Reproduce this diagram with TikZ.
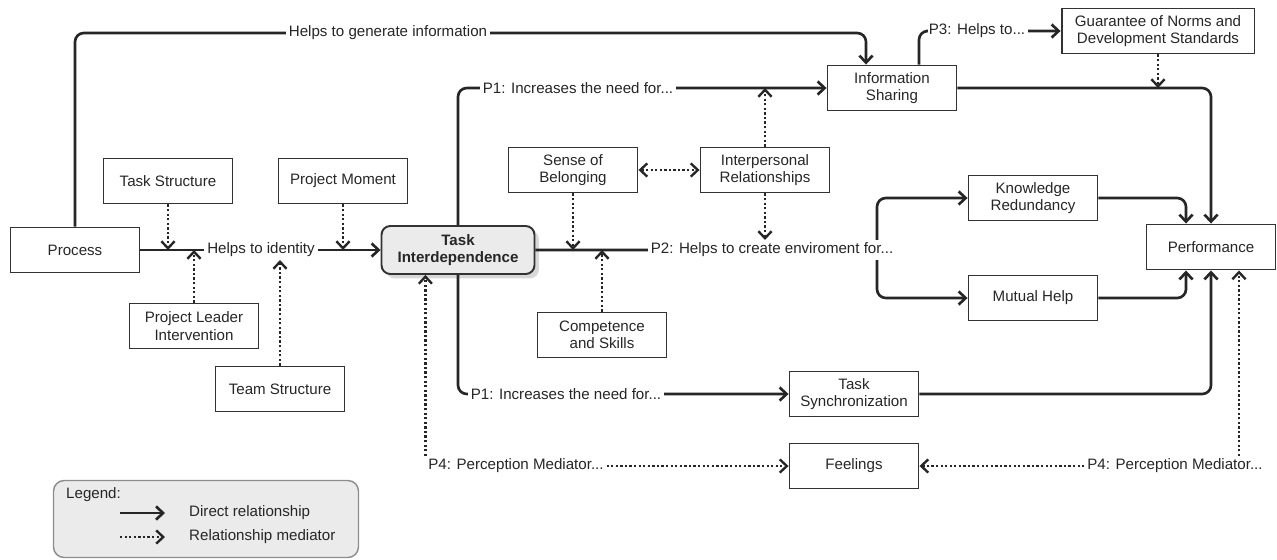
\documentclass[tikz,border=0pt]{standalone}
\usepackage{fontspec}
\setmainfont{Liberation Sans}
\usetikzlibrary{arrows.meta,calc,shadows}

\begin{document}
\begin{tikzpicture}[x=0.02cm,y=-0.02cm,>={Straight Barb[length=4pt,width=7.5pt]},
  font=\fontsize{8.6}{9.8}\selectfont,text=black!85,
  box/.style={draw=black!80,line width=1.1pt,minimum width=2.58cm,minimum height=0.9cm,align=center,inner sep=1pt},
  mainbox/.style={box,rounded corners=5pt,minimum width=3.06cm,minimum height=0.96cm,fill=black!8,drop shadow={shadow xshift=2.5pt,shadow yshift=-2.5pt,fill=black!30},font=\fontsize{8.6}{9.8}\selectfont\bfseries},
  lbl/.style={fill=white,inner sep=1.5pt},
  direct/.style={->,draw=black!85,line width=1.5pt,rounded corners=5pt},
  mediator/.style={->,draw=black!85,line width=1.35pt,dash pattern=on 1.3pt off 1.3pt}]
  \useasboundingbox (0,0) rectangle (1277,559);

  \node[box] (proc) at (75,250) {Process};
  \node[box] (tstruct) at (168,181) {Task Structure};
  \node[box] (pmom) at (343,181) {Project Moment};
  \node[box] (pli) at (194,326) {Project Leader\\Intervention};
  \node[box] (team) at (280,389) {Team Structure};
  \node[mainbox] (ti) at (458,250) {Task\\Interdependence};
  \node[box] (sob) at (573,170) {Sense of\\Belonging};
  \node[box] (ir) at (765,170) {Interpersonal\\Relationships};
  \node[box] (comp) at (602,335) {Competence\\and Skills};
  \node[box] (info) at (892,88) {Information\\Sharing};
  \node[box,minimum width=3.86cm] (guar) at (1158,31) {Guarantee of Norms and\\Development Standards};
  \node[box] (kr) at (1033,198) {Knowledge\\Redundancy};
  \node[box] (mh) at (1033,298) {Mutual Help};
  \node[box] (perf) at (1211,247) {Performance};
  \node[box] (tsync) at (854,394) {Task\\Synchronization};
  \node[box] (feel) at (854,466) {Feelings};

  \node[lbl] (gen) at (388,33) {Helps to generate information};
  \node[lbl] (ident) at (261,250) {Helps to identity};
  \node[lbl] (p1a) at (578,88) {P1: Increases the need for...};
  \node[lbl] (p3) at (977,31) {P3: Helps to...};
  \node[lbl] (p1b) at (566,394) {P1: Increases the need for...};
  \node[lbl] (p4a) at (516,466) {P4: Perception Mediator...};
  \node[lbl] (p4b) at (1175,466) {P4: Perception Mediator...};
  \coordinate (split) at (877,250);

  \draw[direct] (proc) -- (ident) -- (ti);
  \draw[direct] (proc) |- (gen) -| ($(info.north)+(-26,0)$);
  \draw[direct] (ti) |- (p1a) -- (info);
  \draw[direct] (ti) |- (p1b) -- (tsync);
  \draw[direct] (ti) -- (split) |- (kr);
  \draw[direct] (split) |- (mh);
  \node[lbl] (p2) at (772,250) {P2: Helps to create enviroment for...};
  \draw[direct] ($(info.north)+(27,0)$) |- (p3) -- (guar);
  \draw[direct] (info) -| (perf);
  \draw[direct] (kr) -| ($(perf.north)+(-25,0)$);
  \draw[direct] (mh) -| ($(perf.south)+(-25,0)$);
  \draw[direct] (tsync) -| (perf);

  \draw[mediator] (tstruct) -- (tstruct |- proc);
  \draw[mediator] (pmom) -- (pmom |- proc);
  \draw[mediator] (pli) -- (pli |- proc);
  \draw[mediator] (team) -- (team |- ident.south);
  \draw[mediator] (sob) -- (sob |- ti);
  \draw[mediator] (comp) -- (comp |- ti);
  \draw[mediator] (ir) -- (ir |- p1a);
  \draw[mediator] (ir) -- (ir |- p2.north);
  \draw[mediator,<->] (sob) -- (ir);
  \draw[mediator] (guar) -- (guar |- info);
  \draw[mediator] (p4a) -- (feel);
  \draw[mediator] (p4b) -- (feel);
  \draw[mediator] (p4a.north west) -- (p4a.north west |- ti.south);
  \coordinate (perfin) at ($(perf.south)+(28,0)$);
  \draw[mediator] (perfin |- p4b.north) -- (perfin);

  \node[draw=black!45,fill=black!8,rounded corners=6pt,line width=0.8pt,minimum width=6.1cm,minimum height=1.54cm] (legend) at (206,519) {};
  \node[anchor=west] (ltitle) at (60,495) {Legend:};
  \node[anchor=west] (ldir) at (183,513) {Direct relationship};
  \node[anchor=west] (lmed) at (183,537) {Relationship mediator};
  \draw[direct] ($(ldir.west)+(-63,0)$) -- ($(ldir.west)+(-18,0)$);
  \draw[mediator] ($(lmed.west)+(-63,0)$) -- ($(lmed.west)+(-18,0)$);
\end{tikzpicture}
\end{document}
